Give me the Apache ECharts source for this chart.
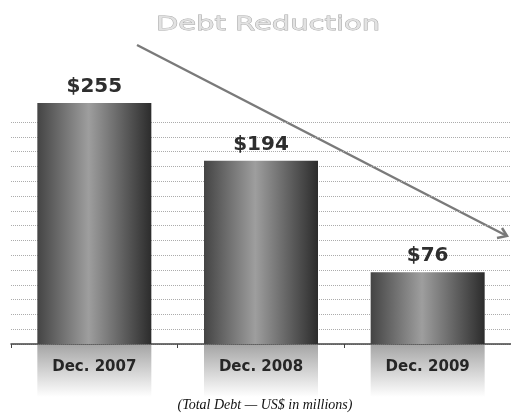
<!DOCTYPE html>
<html>
<head>
<meta charset="utf-8">
<script src="https://cdn.jsdelivr.net/npm/echarts@6/dist/echarts.min.js"></script>
<style>html,body{margin:0;padding:0;background:#fff}#c{width:511px;height:414px}</style>
</head>
<body>
<div id="c"></div>
<script>
const categories = ['Dec. 2007', 'Dec. 2008', 'Dec. 2009'];
const debtValues = [255, 194, 76];
const valueLabels = ['$255', '$194', '$76'];
const titleText = 'Debt Reduction';
const subtitleText = '(Total Debt \u2014 US$ in millions)';

const chart = echarts.init(document.getElementById('c'), null, {renderer: 'canvas'});
const labelBand = categories.map(() => 1);

const option = {
  backgroundColor: '#ffffff',
  animation: false,
  grid: [
    {left: 11, right: 0, top: 122, height: 222},
    {left: 11, right: 0, top: 345, height: 52}
  ],
  xAxis: [
    {type: 'category', gridIndex: 0, data: categories,
     axisLine: {lineStyle: {color: '#444', width: 1.5}},
     axisTick: {show: true, length: 4, lineStyle: {color: '#444'}},
     axisLabel: {show: false}, splitLine: {show: false}},
    {type: 'category', gridIndex: 1, data: categories, show: false}
  ],
  yAxis: [
    {type: 'value', gridIndex: 0, min: 0, max: 235, show: false, splitLine: {show: false}},
    {type: 'value', gridIndex: 0, min: 0, max: 15, interval: 1,
     axisLine: {show: false}, axisTick: {show: false}, axisLabel: {show: false},
     splitLine: {show: true, lineStyle: {type: 'dotted', color: '#acacac', width: 1}}},
    {type: 'value', gridIndex: 1, min: 0, max: 1, show: false}
  ],
  series: [
    {type: 'bar', xAxisIndex: 0, yAxisIndex: 0, data: debtValues, barWidth: 114, clip: false,
     itemStyle: {color: new echarts.graphic.LinearGradient(0, 0, 1, 0, [
       {offset: 0, color: '#444444'}, {offset: 0.45, color: '#9e9e9e'}, {offset: 1, color: '#2c2c2c'}])},
     label: {show: true, position: 'top', distance: 6,
       formatter: p => valueLabels[p.dataIndex],
       fontFamily: 'DejaVu Sans', fontWeight: 'bold', fontSize: 20, color: '#2e2e2e'}},
    {type: 'bar', xAxisIndex: 1, yAxisIndex: 2, data: labelBand, barWidth: 114,
     itemStyle: {color: new echarts.graphic.LinearGradient(0, 0, 0, 1, [
       {offset: 0, color: '#a6a6a6'}, {offset: 1, color: '#ffffff'}])},
     label: {show: true, position: ['50%', 22], align: 'center', verticalAlign: 'middle',
       formatter: p => categories[p.dataIndex],
       fontFamily: 'DejaVu Sans', fontWeight: 'bold', fontSize: 15, color: '#262626'}},
  ],
  graphic: [
    {type: 'text', x: 268, y: 25, scaleX: 1.45, scaleY: 1,
     style: {text: titleText, font: '20px "DejaVu Sans"', fill: '#e2e2e2', stroke: '#a8a8a8', lineWidth: 0.8,
       align: 'center', verticalAlign: 'middle'}},
    {type: 'line', shape: {x1: 137, y1: 45, x2: 507, y2: 236},
     style: {stroke: '#7a7a7a', lineWidth: 2.5}},
    {type: 'polyline', shape: {points: [[502, 228], [507, 236], [497, 238]]},
     style: {stroke: '#7a7a7a', lineWidth: 2.5, fill: null}},
    {type: 'text', x: 265, y: 405,
     style: {text: subtitleText, font: 'italic 14px "Liberation Serif"', fill: '#111',
       align: 'center', verticalAlign: 'middle'}}
  ]
};
chart.setOption(option);
</script>
</body>
</html>
